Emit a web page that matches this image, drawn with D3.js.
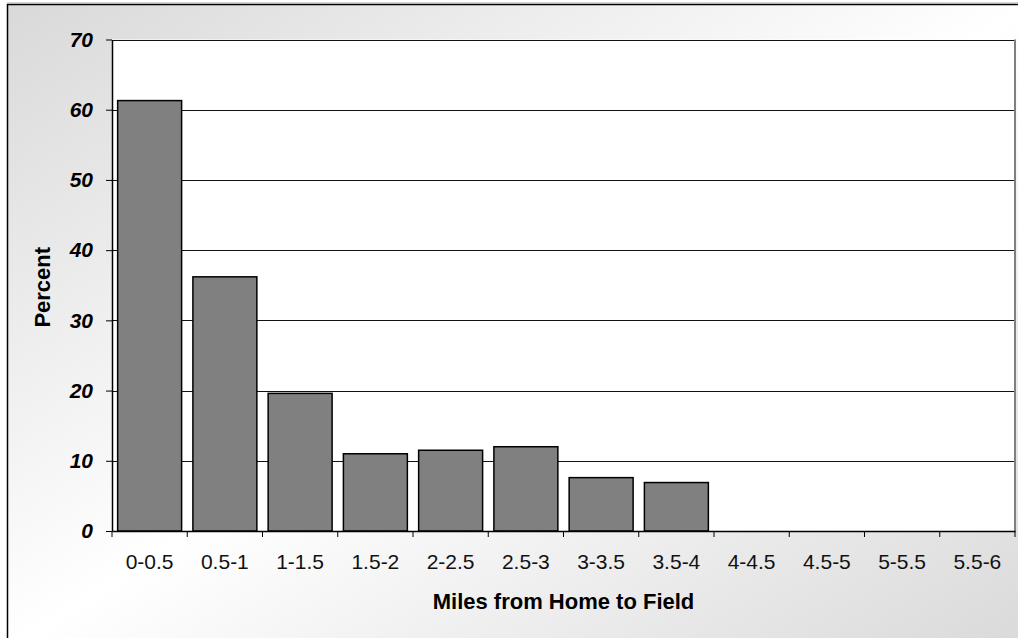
<!DOCTYPE html>
<html>
<head>
<meta charset="utf-8">
<script src="https://cdn.jsdelivr.net/npm/d3@7"></script>
<style>
html,body{margin:0;padding:0;background:#fff;}
svg{display:block;}
text{font-family:"Liberation Sans",Arial,sans-serif;}
</style>
</head>
<body>
<svg id="chart" width="1018" height="638"></svg>
<script>
const categories = ["0-0.5","0.5-1","1-1.5","1.5-2","2-2.5","2.5-3","3-3.5","3.5-4","4-4.5","4.5-5","5-5.5","5.5-6"];
const percentValues = [61.3, 36.2, 19.6, 11.0, 11.5, 12.0, 7.6, 6.9, 0, 0, 0, 0];
const yTicks = [0, 10, 20, 30, 40, 50, 60, 70];
const xTitle = "Miles from Home to Field";
const yTitle = "Percent";

const svg = d3.select("#chart");
const W = 1018, H = 638;
const plot = {left: 112, right: 1015, top: 39.5, bottom: 531};

// background gradient
const defs = svg.append("defs");
const grad = defs.append("linearGradient").attr("id","bg")
  .attr("x1",0).attr("y1",0).attr("x2",1).attr("y2",1);
grad.append("stop").attr("offset",0).attr("stop-color","#d9d9d9");
grad.append("stop").attr("offset",0.5).attr("stop-color","#ffffff");
grad.append("stop").attr("offset",1).attr("stop-color","#d9d9d9");

svg.append("rect").attr("x",7.5).attr("y",4.5).attr("width",1025).attr("height",645)
  .attr("fill","url(#bg)").attr("stroke","#000").attr("stroke-width",1.5);
svg.append("line").attr("x1",7).attr("x2",W).attr("y1",3).attr("y2",3)
  .attr("stroke","#aaa").attr("stroke-width",1);

const x = d3.scaleBand().domain(categories).range([plot.left, plot.right])
  .paddingInner(0.15).paddingOuter(0.075);
const y = d3.scaleLinear().domain([0,70]).range([plot.bottom, plot.top]);

// plot area
svg.append("rect").attr("x",plot.left).attr("y",plot.top)
  .attr("width",plot.right-plot.left).attr("height",plot.bottom-plot.top)
  .attr("fill","#fff");

// gridlines
svg.append("g").selectAll("line").data(yTicks.filter(d=>d>0)).join("line")
  .attr("x1",plot.left).attr("x2",plot.right)
  .attr("y1",d=>Math.round(y(d))+0.5).attr("y2",d=>Math.round(y(d))+0.5)
  .attr("stroke","#111").attr("stroke-width",1);

// right border
svg.append("line").attr("x1",plot.right).attr("x2",plot.right)
  .attr("y1",plot.top).attr("y2",plot.bottom)
  .attr("stroke","#808080").attr("stroke-width",2);

// bars
svg.append("g").selectAll("rect").data(categories.map((c,i)=>({c,v:percentValues[i]})).filter(d=>d.v>0))
  .join("rect")
  .attr("x",d=>x(d.c)).attr("width",x.bandwidth())
  .attr("y",d=>y(d.v)).attr("height",d=>y(0)-y(d.v))
  .attr("fill","#808080").attr("stroke","#000").attr("stroke-width",1.5);

// y axis
const yAxis = d3.axisLeft(y).tickValues(yTicks).tickSize(6).tickPadding(13).tickSizeOuter(0);
const gy = svg.append("g").attr("transform",`translate(${plot.left},0)`).call(yAxis);
gy.select(".domain").attr("stroke","#000").attr("stroke-width",1.5);
gy.selectAll(".tick line").attr("stroke","#000");
gy.selectAll(".tick text").attr("font-family","'Liberation Sans',Arial,sans-serif")
  .attr("font-size",21).attr("font-weight","bold").attr("font-style","italic").attr("fill","#000");

// x axis
const xAxis = d3.axisBottom(x).tickSize(0).tickPadding(23).tickSizeOuter(0);
const gx = svg.append("g").attr("transform",`translate(0,${plot.bottom})`).call(xAxis);
gx.select(".domain").attr("stroke","#000").attr("stroke-width",1.5);
gx.selectAll(".tick text").attr("font-family","'Liberation Sans',Arial,sans-serif")
  .attr("font-size",21).attr("fill","#111");
// ticks at category boundaries
const bounds = d3.range(categories.length+1).map(i => plot.left + i*x.step());
gx.selectAll(".bound").data(bounds).join("line").attr("class","bound")
  .attr("x1",d=>d).attr("x2",d=>d).attr("y1",0).attr("y2",6)
  .attr("stroke","#000");

// titles
svg.append("text").attr("x",(plot.left+plot.right)/2).attr("y",609)
  .attr("text-anchor","middle").attr("font-size",22).attr("font-weight","bold")
  .attr("fill","#000").text(xTitle);
svg.append("text").attr("transform",`translate(50,${(plot.top+plot.bottom)/2+2}) rotate(-90)`)
  .attr("text-anchor","middle").attr("font-size",22).attr("font-weight","bold")
  .attr("fill","#000").text(yTitle);
</script>
</body>
</html>
